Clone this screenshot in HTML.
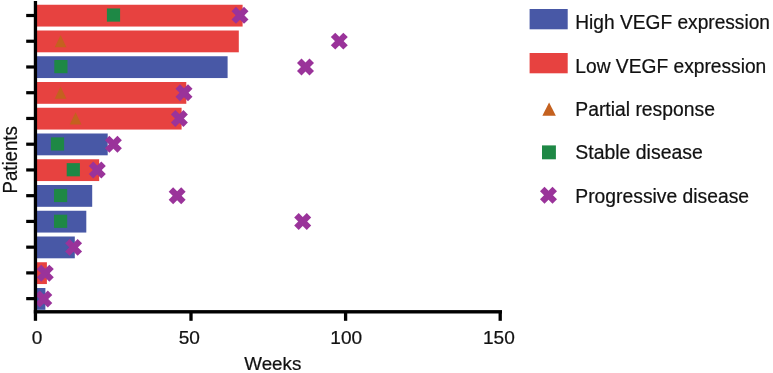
<!DOCTYPE html>
<html><head><meta charset="utf-8"><title>Swimmer plot</title>
<style>
html,body{margin:0;padding:0;background:#fff;}
body{width:773px;height:373px;overflow:hidden;}
svg{display:block;will-change:transform;opacity:0.999;}
text{font-family:"Liberation Sans",sans-serif;fill:#111;stroke:#111;stroke-width:0.22px;}
</style></head><body>
<svg width="773" height="373" viewBox="0 0 773 373">
<rect width="773" height="373" fill="#fff"/>

<rect x="36" y="4.75" width="206.60" height="21.8" fill="#E74240"/>
<rect x="36" y="30.50" width="202.80" height="21.8" fill="#E74240"/>
<rect x="36" y="56.25" width="191.60" height="21.8" fill="#4858A6"/>
<rect x="36" y="82.00" width="150.30" height="21.8" fill="#E74240"/>
<rect x="36" y="107.75" width="145.60" height="21.8" fill="#E74240"/>
<rect x="36" y="133.50" width="71.70" height="21.8" fill="#4858A6"/>
<rect x="36" y="159.25" width="63.20" height="21.8" fill="#E74240"/>
<rect x="36" y="185.00" width="56.20" height="21.8" fill="#4858A6"/>
<rect x="36" y="210.75" width="50.30" height="21.8" fill="#4858A6"/>
<rect x="36" y="236.50" width="38.80" height="21.8" fill="#4858A6"/>
<rect x="36" y="262.25" width="10.90" height="21.8" fill="#E74240"/>
<rect x="36" y="288.00" width="9.40" height="21.8" fill="#4858A6"/>
<rect x="106.90" y="8.45" width="13.2" height="13.2" fill="#1E8845"/>
<g transform="translate(240.00 15.35) rotate(45)" fill="#9A339A"><rect x="-8.85" y="-3.15" width="17.7" height="6.3"/><rect x="-3.15" y="-8.85" width="6.3" height="17.7"/></g>
<polygon points="60.60,34.88 66.50,47.18 54.70,47.18" fill="#C4611F"/>
<g transform="translate(339.30 41.13) rotate(45)" fill="#9A339A"><rect x="-8.85" y="-3.15" width="17.7" height="6.3"/><rect x="-3.15" y="-8.85" width="6.3" height="17.7"/></g>
<rect x="54.30" y="60.01" width="13.2" height="13.2" fill="#1E8845"/>
<g transform="translate(305.50 66.91) rotate(45)" fill="#9A339A"><rect x="-8.85" y="-3.15" width="17.7" height="6.3"/><rect x="-3.15" y="-8.85" width="6.3" height="17.7"/></g>
<polygon points="60.60,86.44 66.50,98.74 54.70,98.74" fill="#C4611F"/>
<g transform="translate(184.00 92.69) rotate(45)" fill="#9A339A"><rect x="-8.85" y="-3.15" width="17.7" height="6.3"/><rect x="-3.15" y="-8.85" width="6.3" height="17.7"/></g>
<polygon points="75.60,112.22 81.50,124.52 69.70,124.52" fill="#C4611F"/>
<g transform="translate(179.40 118.47) rotate(45)" fill="#9A339A"><rect x="-8.85" y="-3.15" width="17.7" height="6.3"/><rect x="-3.15" y="-8.85" width="6.3" height="17.7"/></g>
<rect x="50.90" y="137.35" width="13.2" height="13.2" fill="#1E8845"/>
<g transform="translate(113.40 144.25) rotate(45)" fill="#9A339A"><rect x="-8.85" y="-3.15" width="17.7" height="6.3"/><rect x="-3.15" y="-8.85" width="6.3" height="17.7"/></g>
<rect x="66.70" y="163.13" width="13.2" height="13.2" fill="#1E8845"/>
<g transform="translate(97.30 170.03) rotate(45)" fill="#9A339A"><rect x="-8.85" y="-3.15" width="17.7" height="6.3"/><rect x="-3.15" y="-8.85" width="6.3" height="17.7"/></g>
<rect x="54.00" y="188.91" width="13.2" height="13.2" fill="#1E8845"/>
<g transform="translate(177.15 195.81) rotate(45)" fill="#9A339A"><rect x="-8.85" y="-3.15" width="17.7" height="6.3"/><rect x="-3.15" y="-8.85" width="6.3" height="17.7"/></g>
<rect x="54.00" y="214.69" width="13.2" height="13.2" fill="#1E8845"/>
<g transform="translate(302.70 221.59) rotate(45)" fill="#9A339A"><rect x="-8.85" y="-3.15" width="17.7" height="6.3"/><rect x="-3.15" y="-8.85" width="6.3" height="17.7"/></g>
<g transform="translate(73.60 247.37) rotate(45)" fill="#9A339A"><rect x="-8.85" y="-3.15" width="17.7" height="6.3"/><rect x="-3.15" y="-8.85" width="6.3" height="17.7"/></g>
<g transform="translate(45.30 273.15) rotate(45)" fill="#9A339A"><rect x="-8.85" y="-3.15" width="17.7" height="6.3"/><rect x="-3.15" y="-8.85" width="6.3" height="17.7"/></g>
<g transform="translate(43.80 298.93) rotate(45)" fill="#9A339A"><rect x="-8.85" y="-3.15" width="17.7" height="6.3"/><rect x="-3.15" y="-8.85" width="6.3" height="17.7"/></g>
<g fill="#000">
<rect x="33.8" y="1" width="3.3" height="319.8"/>
<rect x="33.8" y="310.1" width="468.2" height="3.4"/>
<rect x="26.2" y="13.90" width="8" height="3.2"/>
<rect x="26.2" y="39.64" width="8" height="3.2"/>
<rect x="26.2" y="65.38" width="8" height="3.2"/>
<rect x="26.2" y="91.12" width="8" height="3.2"/>
<rect x="26.2" y="116.86" width="8" height="3.2"/>
<rect x="26.2" y="142.60" width="8" height="3.2"/>
<rect x="26.2" y="168.34" width="8" height="3.2"/>
<rect x="26.2" y="194.08" width="8" height="3.2"/>
<rect x="26.2" y="219.82" width="8" height="3.2"/>
<rect x="26.2" y="245.56" width="8" height="3.2"/>
<rect x="26.2" y="271.30" width="8" height="3.2"/>
<rect x="26.2" y="297.04" width="8" height="3.2"/>
<rect x="189.35" y="312" width="3.3" height="8.8"/>
<rect x="343.95" y="312" width="3.3" height="8.8"/>
<rect x="498.55" y="312" width="3.3" height="8.8"/>
</g>
<text transform="translate(37 344.2) scale(1.01 1)" font-size="18.9" text-anchor="middle">0</text>
<text transform="translate(189.3 344.2) scale(1.01 1)" font-size="18.9" text-anchor="middle">50</text>
<text transform="translate(346.2 344.2) scale(1.01 1)" font-size="18.9" text-anchor="middle">100</text>
<text transform="translate(498.9 344.2) scale(1.01 1)" font-size="18.9" text-anchor="middle">150</text>
<text x="272.8" y="369.6" font-size="18.8" text-anchor="middle">Weeks</text>
<text transform="translate(16.7 159.9) rotate(-90) scale(0.955 1)" font-size="19.5" text-anchor="middle">Patients</text>
<rect x="529.6" y="9" width="38.1" height="20.3" fill="#4858A6"/>
<rect x="529.6" y="53" width="38.1" height="20.3" fill="#E74240"/>
<polygon points="549.10,102.50 555.85,115.80 542.35,115.80" fill="#C4611F"/>
<rect x="542" y="145.4" width="13.9" height="13.9" fill="#1E8845"/>
<g transform="translate(548.50 195.30) rotate(45)" fill="#9A339A"><rect x="-8.85" y="-3.15" width="17.7" height="6.3"/><rect x="-3.15" y="-8.85" width="6.3" height="17.7"/></g>
<text x="575.3" y="29.30" font-size="19.6" textLength="194.7" lengthAdjust="spacingAndGlyphs">High VEGF expression</text>
<text x="575.3" y="72.60" font-size="19.6" textLength="191.0" lengthAdjust="spacingAndGlyphs">Low VEGF expression</text>
<text x="575.3" y="115.90" font-size="19.6" textLength="139.6" lengthAdjust="spacingAndGlyphs">Partial response</text>
<text x="575.3" y="159.20" font-size="19.6" textLength="127.5" lengthAdjust="spacingAndGlyphs">Stable disease</text>
<text x="575.3" y="202.50" font-size="19.6" textLength="173.8" lengthAdjust="spacingAndGlyphs">Progressive disease</text>
</svg></body></html>
